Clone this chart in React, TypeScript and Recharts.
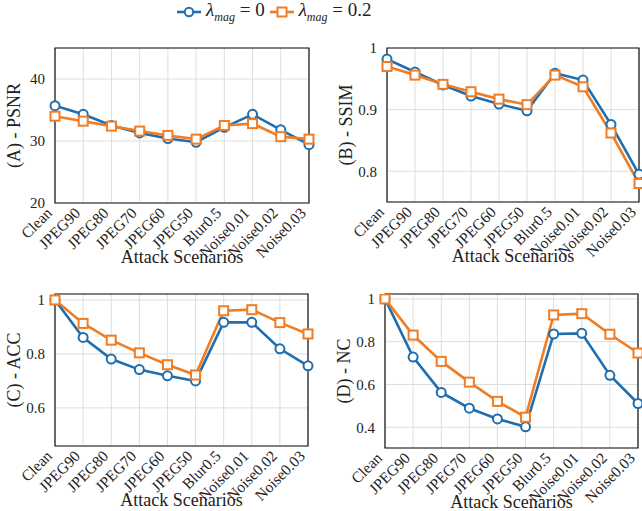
import React from "react";
import { LineChart, Line, XAxis, YAxis, CartesianGrid, ReferenceArea } from "recharts";

const categories = [
  "Clean",
  "JPEG90",
  "JPEG80",
  "JPEG70",
  "JPEG60",
  "JPEG50",
  "Blur0.5",
  "Noise0.01",
  "Noise0.02",
  "Noise0.03",
];

const psnrMag0 = [35.7, 34.3, 32.5, 31.3, 30.4, 29.8, 32.2, 34.3, 31.8, 29.4];
const psnrMag02 = [34.0, 33.2, 32.4, 31.6, 30.9, 30.3, 32.5, 32.8, 30.7, 30.3];

const ssimMag0 = [0.982, 0.961, 0.94, 0.922, 0.909, 0.898, 0.959, 0.948, 0.876, 0.795];
const ssimMag02 = [0.97, 0.956, 0.941, 0.929, 0.917, 0.908, 0.956, 0.937, 0.862, 0.78];

const accMag0 = [1.0, 0.861, 0.781, 0.742, 0.719, 0.7, 0.917, 0.917, 0.819, 0.756];
const accMag02 = [1.0, 0.913, 0.851, 0.804, 0.76, 0.722, 0.96, 0.964, 0.916, 0.874];

const ncMag0 = [1.0, 0.728, 0.563, 0.489, 0.439, 0.402, 0.836, 0.839, 0.643, 0.511];
const ncMag02 = [1.0, 0.831, 0.708, 0.611, 0.521, 0.447, 0.925, 0.931, 0.835, 0.747];

const BLUE = "#1f6eb0";
const ORANGE = "#f07c24";
const GRID = "#dddddd";
const FONT = "Liberation Serif";

type Panel = {
  label: string;
  a: number[];
  b: number[];
  domain: [number, number];
  ticks: number[];
  // chart box and plot box (page coords)
  left: number;
  top: number;
  width: number;
  height: number;
  plotLeft: number;
  plotTop: number;
  plotRight: number;
  plotBottom: number;
};

const panels: Panel[] = [
  {
    label: "(A) - PSNR",
    a: psnrMag0,
    b: psnrMag02,
    domain: [20, 45],
    ticks: [20, 30, 40],
    left: 0, top: 30, width: 321, height: 240,
    plotLeft: 55, plotTop: 48, plotRight: 309, plotBottom: 203,
  },
  {
    label: "(B) - SSIM",
    a: ssimMag0,
    b: ssimMag02,
    domain: [0.75, 1],
    ticks: [0.8, 0.9, 1],
    left: 321, top: 30, width: 321, height: 240,
    plotLeft: 387, plotTop: 48, plotRight: 639, plotBottom: 202,
  },
  {
    label: "(C) - ACC",
    a: accMag0,
    b: accMag02,
    domain: [0.459, 1.022],
    ticks: [0.6, 0.8, 1],
    left: 0, top: 270, width: 321, height: 241,
    plotLeft: 55, plotTop: 294, plotRight: 308, plotBottom: 446,
  },
  {
    label: "(D) - NC",
    a: ncMag0,
    b: ncMag02,
    domain: [0.303, 1.023],
    ticks: [0.4, 0.6, 0.8, 1],
    left: 321, top: 270, width: 321, height: 241,
    plotLeft: 385, plotTop: 294, plotRight: 638, plotBottom: 448,
  },
];

const makeXTick = (axisY: number) => (props: any) => {
  const { x, payload } = props;
  return (
    <g transform={`translate(${x - 2},${axisY + 11})`}>
      <text
        textAnchor="end"
        transform="rotate(-45)"
        fontFamily={FONT}
        fontSize={15.5}
        fill="#222"
      >
        {payload.value}
      </text>
    </g>
  );
};

const formatY = (v: number) => (v === 1 ? "1" : String(v));

const SquareDot = (props: any) => {
  const { cx, cy, index } = props;
  if (cx == null || cy == null) return <g key={`s-${index}`} />;
  return (
    <rect
      key={`s-${index}`}
      x={cx - 4.5}
      y={cy - 4.5}
      width={9}
      height={9}
      fill="#fff"
      stroke={ORANGE}
      strokeWidth={2}
    />
  );
};

function PanelChart({ p }: { p: Panel }) {
  const data = categories.map((c, i) => ({ name: c, a: p.a[i], b: p.b[i] }));
  const yWidth = p.plotLeft - p.left;
  const xHeight = 60;
  const margin = {
    top: p.plotTop - p.top,
    right: p.left + p.width - p.plotRight,
    left: 0,
    bottom: p.top + p.height - p.plotBottom - xHeight,
  };
  const cy = (p.plotTop + p.plotBottom) / 2 - p.top;
  const lx = p.plotLeft - p.left - 41;
  const XTick = makeXTick(p.plotBottom - p.top);
  return (
    <div style={{ position: "absolute", left: p.left, top: p.top }}>
      <LineChart width={p.width} height={p.height} data={data} margin={margin}>
        <CartesianGrid stroke={GRID} strokeWidth={1} />
        <XAxis
          dataKey="name"
          interval={0}
          height={xHeight}
          tick={XTick}
          tickLine={false}
          axisLine={false}
          padding={{ left: 0, right: 0 }}
        />
        <YAxis
          width={yWidth}
          type="number"
          domain={p.domain}
          ticks={p.ticks}
          allowDataOverflow
          tickFormatter={formatY}
          tick={{ fontFamily: FONT, fontSize: 15, fill: "#222" }}
          tickLine={false}
          axisLine={false}
          tickMargin={4}
        />
        <ReferenceArea
          x1="Clean"
          x2="Noise0.03"
          y1={p.domain[0]}
          y2={p.domain[1]}
          fill="none"
          stroke="#111"
          strokeWidth={1.2}
          ifOverflow="visible"
        />
        <Line
          dataKey="a"
          stroke={BLUE}
          strokeWidth={2.6}
          dot={{ r: 4.5, fill: "#fff", stroke: BLUE, strokeWidth: 2 }}
          isAnimationActive={false}
        />
        <Line
          dataKey="b"
          stroke={ORANGE}
          strokeWidth={2.6}
          dot={SquareDot}
          isAnimationActive={false}
        />
        <text
          x={lx}
          y={cy}
          textAnchor="middle"
          dominantBaseline="central"
          transform={`rotate(-90, ${lx}, ${cy})`}
          fontFamily={FONT}
          fontSize={18}
          fill="#222"
        >
          {p.label}
        </text>
        <text
          x={(p.plotLeft + p.plotRight) / 2 - p.left}
          y={p.plotBottom - p.top + 60}
          textAnchor="middle"
          fontFamily={FONT}
          fontSize={18}
          fill="#222"
        >
          Attack Scenarios
        </text>
      </LineChart>
    </div>
  );
}

function LegendIcon({ color, square }: { color: string; square?: boolean }) {
  return (
    <svg width={26} height={12} style={{ verticalAlign: "middle" }}>
      <line x1={1} y1={6} x2={25} y2={6} stroke={color} strokeWidth={2.6} />
      {square ? (
        <rect x={8.5} y={1.5} width={9} height={9} fill="#fff" stroke={color} strokeWidth={2} />
      ) : (
        <circle cx={13} cy={6} r={4.2} fill="#fff" stroke={color} strokeWidth={2} />
      )}
    </svg>
  );
}

function LegendLabel({ value }: { value: string }) {
  return (
    <span style={{ fontFamily: FONT, fontSize: 19, color: "#222", margin: "0 4px 0 4px" }}>
      <i>λ</i>
      <sub style={{ fontSize: 12, fontStyle: "italic" }}>mag</sub>
      {" = "}
      {value}
    </span>
  );
}

export default function App() {
  return (
    <div
      style={{
        position: "absolute",
        left: 0,
        top: 0,
        width: 642,
        height: 511,
        background: "#fff",
        overflow: "hidden",
      }}
    >
      <div
        style={{
          position: "absolute",
          top: -1,
          left: 176,
          lineHeight: "22px",
          whiteSpace: "nowrap",
        }}
      >
        <LegendIcon color={BLUE} />
        <LegendLabel value="0" />
        <LegendIcon color={ORANGE} square />
        <LegendLabel value="0.2" />
      </div>
      {panels.map((p) => (
        <PanelChart key={p.label} p={p} />
      ))}
    </div>
  );
}
